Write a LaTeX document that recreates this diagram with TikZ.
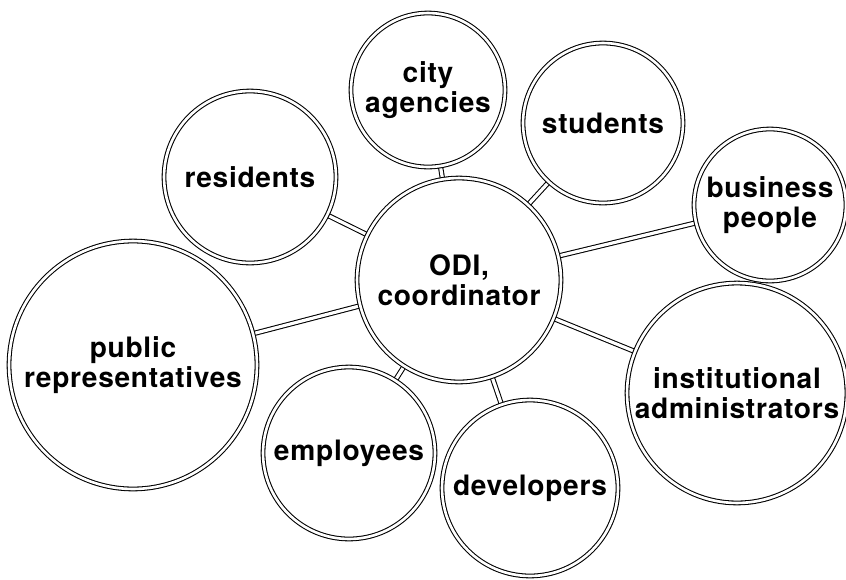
\documentclass[tikz,border=0pt]{standalone}
\usepackage{fontspec}
\setmainfont{TeX Gyre Heros}[LetterSpace=2.5]
\usepackage{tikz}
\usetikzlibrary{backgrounds}

\begin{document}
\begin{tikzpicture}[
    x=0.02cm, y=-0.02cm,
    party/.style={circle, draw, line width=0.6pt, double, double distance=1.5pt, inner sep=0pt,
        minimum size=#1*0.04cm, align=center, font=\fontsize{16}{17}\selectfont\bfseries},
    link/.style={draw, line width=0.6pt, double, double distance=1.8pt}
]
    \useasboundingbox (0,0) rectangle (846,579);

    % Centre
    \node[party=102] (odi) at (459, 280) {ODI,\\coordinator};

    % Parties
    \node[party=77] (agencies) at (428, 90) {city\\agencies};
    \node[party=80] (students) at (603, 123) {students};
    \node[party=86] (residents) at (250, 177) {residents};
    \node[party=76] (business) at (770, 205) {business\\people};
    \node[party=124] (publicrep) at (133, 365) {public\\representatives};
    \node[party=86] (employees) at (349, 453) {employees};
    \node[party=88] (developers) at (530, 488) {developers};
    \node[party=110] (admins) at (737, 393) {institutional\\administrators};

    % Links
    \begin{scope}[on background layer]
        \foreach \p in {agencies, students, residents, business, publicrep, employees, developers, admins}
            \draw[link] (odi) -- (\p);
    \end{scope}

\end{tikzpicture}
\end{document}
